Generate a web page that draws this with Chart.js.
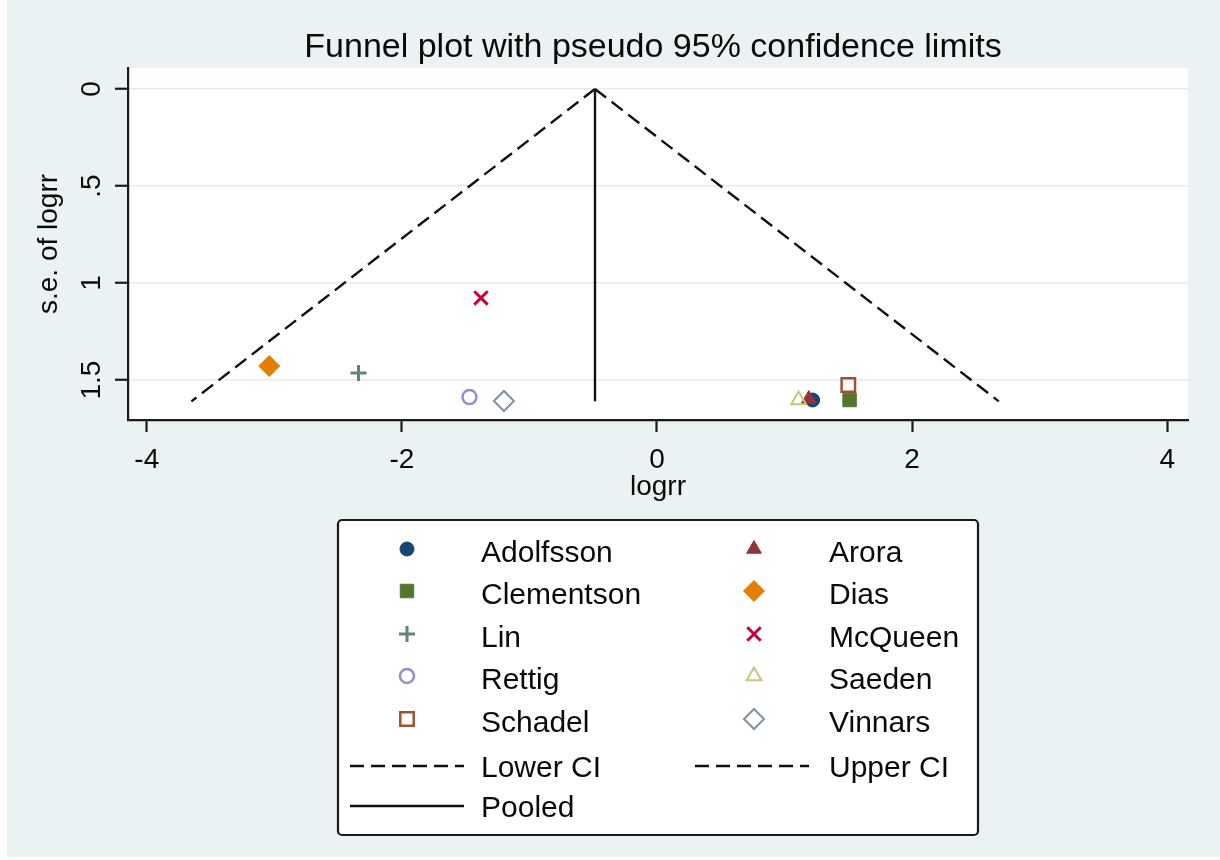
<!DOCTYPE html>
<html>
<head>
<meta charset="utf-8">
<script src="https://cdn.jsdelivr.net/npm/chart.js@4.4.1/dist/chart.umd.min.js"></script>
<style>
html,body{margin:0;padding:0;background:#fff;}
#wrap{width:1220px;height:860px;position:relative;}
canvas{display:block;}
</style>
</head>
<body>
<div id="wrap"><canvas id="c" width="1220" height="860"></canvas></div>
<script>
// ---- data ----
const chartTitle = 'Funnel plot with pseudo 95% confidence limits';
const xTitle = 'logrr';
const yTitle = 's.e. of logrr';
const studies = ['Adolfsson','Arora','Clementson','Dias','Lin','McQueen','Rettig','Saeden','Schadel','Vinnars'];
const logrr   = [1.22, 1.19, 1.51, -3.04, -2.34, -1.38, -1.47, 1.11, 1.50, -1.20];
const seLogrr = [1.603, 1.598, 1.603, 1.428, 1.464, 1.077, 1.588, 1.603, 1.526, 1.608];
const lineSe   = [0, 1.61];
const pooledX  = [-0.486, -0.486];
const lowerCIx = [-0.486, -3.65];
const upperCIx = [-0.486, 2.68];
const xTicks = [-4, -2, 0, 2, 4];
const xTickLabels = ['-4', '-2', '0', '2', '4'];
const yTicks = [0, 0.5, 1, 1.5];
const yTickLabels = ['0', '.5', '1', '1.5'];

// ---- styles ----
const markerColors = ['#1a476f','#90353b','#55752f','#e37e00','#5f8478','#c10534','#938dd2','#cac27e','#a0522d','#7b92a8'];
const markerStyles = ['circle','triangle','rect','rectRot','cross','crossRot','circle','triangle','rect','rectRot'];
const markerFilled = [true,true,true,true,true,true,false,false,false,false];
const markerRadius = [7,8.5,9.5,10.5,8,9.5,7,8.5,9.5,10];
const markerBorder = [1,1,1,1,3,3,2.5,2,2.5,2];
const TXT = '#0a0a0a';
const FONT = s => s + 'px "Liberation Sans", Arial, Helvetica, sans-serif';

const toPts = (xs, ys) => xs.map((x, i) => ({x, y: ys[i]}));

const datasets = studies.map((name, i) => ({
  label: name,
  data: [{x: logrr[i], y: seLogrr[i]}],
  pointStyle: markerStyles[i],
  pointRadius: markerRadius[i],
  pointHoverRadius: markerRadius[i],
  backgroundColor: markerFilled[i] ? markerColors[i] : 'rgba(0,0,0,0)',
  borderColor: markerColors[i],
  borderWidth: markerBorder[i],
  order: -i
}));
const lineStyle = (label, xs, dash) => ({
  label, data: toPts(xs, lineSe), showLine: true, pointRadius: 0,
  borderColor: '#111', borderWidth: 2.4, borderDash: dash, fill: false, order: 100
});
datasets.push(lineStyle('Lower CI', lowerCIx, [14, 7]));
datasets.push(lineStyle('Upper CI', upperCIx, [14, 7]));
datasets.push(lineStyle('Pooled', pooledX, []));

function styleOf(i){
  return {pointStyle: markerStyles[i], rotation: 0, radius: markerRadius[i], borderWidth: markerBorder[i]};
}

const deco = {
  id: 'deco',
  beforeDraw(chart){
    const {ctx, chartArea: a} = chart;
    ctx.save();
    ctx.fillStyle = '#ffffff'; ctx.fillRect(0, 0, chart.width, chart.height);
    ctx.fillStyle = '#eaf2f3'; ctx.fillRect(7, 0, chart.width - 7, 857);
    ctx.fillStyle = '#ffffff'; ctx.fillRect(a.left, a.top, a.right - a.left, a.bottom - a.top);
    ctx.restore();
  },
  afterDraw(chart){
    const {ctx, chartArea: a} = chart;
    const xs = chart.scales.x, ys = chart.scales.y;
    ctx.save();
    ctx.fillStyle = TXT;
    ctx.textAlign = 'center';
    ctx.textBaseline = 'alphabetic';
    // title
    ctx.font = FONT(34);
    ctx.fillText(chartTitle, 653, 57);
    // x ticks + title
    ctx.font = FONT(28);
    xs.ticks.forEach((t, i) => ctx.fillText(xTickLabels[i], xs.getPixelForValue(t.value), 468));
    ctx.fillText(xTitle, 658, 495);
    // y ticks (rotated)
    ys.ticks.forEach((t, i) => {
      ctx.save();
      ctx.translate(100, ys.getPixelForValue(t.value));
      ctx.rotate(-Math.PI / 2);
      ctx.fillText(yTickLabels[i], 0, 0);
      ctx.restore();
    });
    ctx.save();
    ctx.translate(57, (a.top + a.bottom) / 2);
    ctx.rotate(-Math.PI / 2);
    ctx.fillText(yTitle, 0, 0);
    ctx.restore();

    // legend box
    const bx = 338, by = 520, bw = 640, bh = 315;
    ctx.beginPath();
    if (ctx.roundRect) ctx.roundRect(bx, by, bw, bh, 4); else ctx.rect(bx, by, bw, bh);
    ctx.fillStyle = '#ffffff'; ctx.fill();
    ctx.lineWidth = 2.2; ctx.strokeStyle = '#1a1a1a'; ctx.stroke();

    const rowY = [551, 593, 636, 678, 721, 766, 806];
    const markX = [407, 754], textX = [481, 829];
    const lineX = [[350, 464], [695, 809]];
    ctx.textAlign = 'left';
    ctx.font = FONT(30);
    studies.forEach((name, i) => {
      const r = Math.floor(i / 2), c = i % 2;
      ctx.save();
      ctx.fillStyle = markerFilled[i] ? markerColors[i] : 'rgba(0,0,0,0)';
      ctx.strokeStyle = markerColors[i];
      ctx.lineWidth = markerBorder[i];
      Chart.helpers.drawPoint(ctx, styleOf(i), markX[c], rowY[r] - 2);
      ctx.restore();
      ctx.fillStyle = TXT;
      ctx.fillText(name, textX[c], rowY[r] + 11);
    });
    const lineItems = [
      {label: 'Lower CI', r: 5, c: 0, dash: [14, 7]},
      {label: 'Upper CI', r: 5, c: 1, dash: [14, 7]},
      {label: 'Pooled', r: 6, c: 0, dash: []}
    ];
    lineItems.forEach(it => {
      ctx.save();
      ctx.strokeStyle = '#111'; ctx.lineWidth = 2.4; ctx.setLineDash(it.dash);
      ctx.beginPath();
      ctx.moveTo(lineX[it.c][0], rowY[it.r]);
      ctx.lineTo(lineX[it.c][1], rowY[it.r]);
      ctx.stroke();
      ctx.restore();
      ctx.fillStyle = TXT;
      ctx.fillText(it.label, textX[it.c], rowY[it.r] + 11);
    });
    ctx.restore();
  }
};

new Chart(document.getElementById('c'), {
  type: 'scatter',
  data: {datasets},
  options: {
    responsive: false,
    animation: false,
    devicePixelRatio: 1,
    layout: {padding: {left: 0, right: 32, top: 68, bottom: 0}},
    plugins: {legend: {display: false}, tooltip: {enabled: false}, title: {display: false}},
    scales: {
      x: {
        type: 'linear', min: -4.147, max: 4.163,
        afterBuildTicks: s => { s.ticks = xTicks.map(v => ({value: v})); },
        afterFit: s => { s.height = 440; },
        ticks: {display: false},
        grid: {drawOnChartArea: false, drawTicks: true, tickLength: 12, tickColor: '#1a1a1a', tickWidth: 2.2},
        border: {display: true, color: '#1a1a1a', width: 2.2}
      },
      y: {
        type: 'linear', reverse: true, min: -0.108, max: 1.706,
        afterBuildTicks: s => { s.ticks = yTicks.map(v => ({value: v})); },
        afterFit: s => { s.width = 128; },
        ticks: {display: false},
        grid: {drawOnChartArea: true, color: '#e1ecf0', lineWidth: 1.5, drawTicks: true, tickLength: 13, tickColor: '#1a1a1a', tickWidth: 2.2},
        border: {display: true, color: '#1a1a1a', width: 2.2}
      }
    }
  },
  plugins: [deco]
});
</script>
</body>
</html>
